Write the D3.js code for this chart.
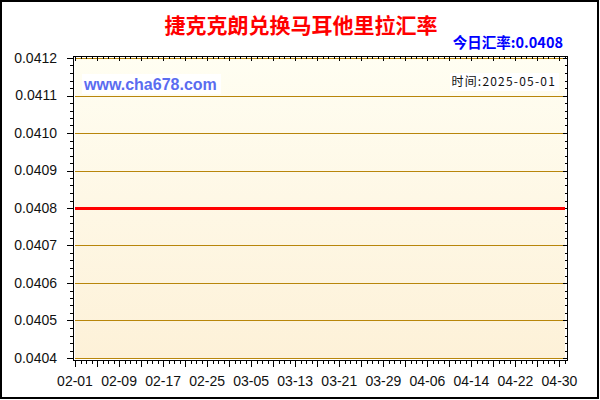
<!DOCTYPE html>
<html>
<head>
<meta charset="utf-8">
<script src="https://cdn.jsdelivr.net/npm/d3@7"></script>
<style>
  body { margin: 0; background: #fff; }
  svg { display: block; }
</style>
</head>
<body>
<svg width="600" height="400"></svg>
<script>
const svg = d3.select("svg");

// DATA
const title = "捷克克朗兑换马耳他里拉汇率";
const todayLabel = "今日汇率:0.0408";
const timeLabel = "时间:2025-05-01";
const siteLabel = "www.cha678.com";
const rateDates = ["2025-02-01", "2025-02-09", "2025-02-17", "2025-02-25", "2025-03-05", "2025-03-13",
  "2025-03-21", "2025-03-29", "2025-04-06", "2025-04-14", "2025-04-22", "2025-04-30", "2025-05-01"];
const rateValues = [0.0408, 0.0408, 0.0408, 0.0408, 0.0408, 0.0408,
  0.0408, 0.0408, 0.0408, 0.0408, 0.0408, 0.0408, 0.0408];
const xTickDates = ["2025-02-01", "2025-02-09", "2025-02-17", "2025-02-25", "2025-03-05", "2025-03-13",
  "2025-03-21", "2025-03-29", "2025-04-06", "2025-04-14", "2025-04-22", "2025-04-30"];
const yTicks = [0.0404, 0.0405, 0.0406, 0.0407, 0.0408, 0.0409, 0.0410, 0.0411, 0.0412];

const parse = d3.utcParse("%Y-%m-%d");
const fmt = d3.utcFormat("%m-%d");
const data = rateDates.map((d, i) => ({ date: parse(d), value: rateValues[i] }));

// LAYOUT
const plot = { left: 75, right: 565, top: 58, bottom: 358 };
const latin = "'Liberation Sans', Arial, sans-serif";
const cjk = "'Noto Sans CJK SC', 'Liberation Sans', sans-serif";

// SCALES
const xScale = d3.scaleUtc()
  .domain([parse("2025-02-01"), parse("2025-05-01")])
  .range([plot.left, plot.right]);
const yScale = d3.scaleLinear()
  .domain([0.0404, 0.0412])
  .range([plot.bottom, plot.top]);

// outer border
svg.append("rect")
  .attr("x", 1).attr("y", 1).attr("width", 597).attr("height", 397)
  .attr("fill", "#fff").attr("stroke", "#000").attr("stroke-width", 2);

// plot background gradient
const grad = svg.append("defs").append("linearGradient")
  .attr("id", "bg").attr("x1", 0).attr("y1", 0).attr("x2", 0).attr("y2", 1);
grad.append("stop").attr("offset", "0%").attr("stop-color", "#fffef2");
grad.append("stop").attr("offset", "100%").attr("stop-color", "#fdf1d8");

svg.append("rect")
  .attr("x", plot.left).attr("y", plot.top)
  .attr("width", plot.right - plot.left).attr("height", plot.bottom - plot.top)
  .attr("fill", "url(#bg)");

// grid lines
svg.append("g").attr("shape-rendering", "crispEdges")
  .selectAll("line").data(yTicks).join("line")
  .attr("x1", plot.left).attr("x2", plot.right)
  .attr("y1", d => Math.round(yScale(d)) + 0.5).attr("y2", d => Math.round(yScale(d)) + 0.5)
  .attr("stroke", "#b8860b").attr("stroke-width", 1);

// frame (axes lines sit 2px outside the plot)
const frame = { left: plot.left - 1.5, right: plot.right + 2.5, top: plot.top - 1.5, bottom: plot.bottom + 2.5 };
svg.append("rect")
  .attr("x", frame.left).attr("y", frame.top)
  .attr("width", frame.right - frame.left).attr("height", frame.bottom - frame.top)
  .attr("fill", "none").attr("stroke", "#000").attr("stroke-width", 1)
  .attr("shape-rendering", "crispEdges");

// x ticks: every day minor, every 4 days major
const days = d3.utcDay.range(parse("2025-02-01"), d3.utcDay.offset(parse("2025-05-01"), 1));
const isMajor = d => Math.round((d - parse("2025-02-01")) / 864e5) % 4 === 0;
const ticksG = svg.append("g").attr("stroke", "#000").attr("stroke-width", 1)
  .attr("shape-rendering", "crispEdges");
ticksG.selectAll(".xb").data(days).join("line")
  .attr("x1", d => Math.round(xScale(d)) + 0.5).attr("x2", d => Math.round(xScale(d)) + 0.5)
  .attr("y1", frame.bottom).attr("y2", d => frame.bottom + (isMajor(d) ? 6 : 3));
ticksG.selectAll(".xt").data(days).join("line")
  .attr("x1", d => Math.round(xScale(d)) + 0.5).attr("x2", d => Math.round(xScale(d)) + 0.5)
  .attr("y1", frame.top).attr("y2", d => frame.top + (isMajor(d) ? 4 : 2));

// y ticks: major at each label, 4 minor between
const yMinor = d3.range(0, 41).map(i => 0.0404 + i * 0.00002);
ticksG.selectAll(".yl").data(yMinor).join("line")
  .attr("y1", d => Math.round(yScale(d)) + 0.5).attr("y2", d => Math.round(yScale(d)) + 0.5)
  .attr("x1", frame.left).attr("x2", (d, i) => frame.left - (i % 5 === 0 ? 7 : 4));
ticksG.selectAll(".yr").data(yMinor).join("line")
  .attr("y1", d => Math.round(yScale(d)) + 0.5).attr("y2", d => Math.round(yScale(d)) + 0.5)
  .attr("x1", frame.right).attr("x2", (d, i) => frame.right - (i % 5 === 0 ? 5 : 3));

// y labels
svg.append("g").selectAll("text").data(yTicks).join("text")
  .attr("x", 57).attr("y", d => yScale(d))
  .attr("dy", "0.35em")
  .attr("text-anchor", "end")
  .attr("font-family", latin).attr("font-size", 14)
  .attr("fill", "#111")
  .text(d => d.toFixed(4));

// x labels
svg.append("g").selectAll("text").data(xTickDates.map(parse)).join("text")
  .attr("x", d => xScale(d)).attr("y", 386)
  .attr("text-anchor", "middle")
  .attr("font-family", latin).attr("font-size", 14)
  .attr("fill", "#111")
  .text(fmt);

// rate line
const line = d3.line().x(d => xScale(d.date)).y(d => yScale(d.value) + 0.5);
svg.append("path").datum(data)
  .attr("d", line)
  .attr("fill", "none").attr("stroke", "#ff0000").attr("stroke-width", 3);

// title
svg.append("text")
  .attr("x", 301).attr("y", 33)
  .attr("text-anchor", "middle")
  .attr("font-family", cjk).attr("font-weight", "bold").attr("font-size", 21)
  .attr("fill", "#ff0000")
  .text(title);

svg.append("text")
  .attr("x", 563).attr("y", 48)
  .attr("text-anchor", "end")
  .attr("font-family", cjk).attr("font-weight", "bold").attr("font-size", 14.5)
  .attr("fill", "#0000ff")
  .text(todayLabel);

// site watermark with white box
svg.append("rect").attr("x", 82).attr("y", 74).attr("width", 139).attr("height", 20).attr("fill", "#fff");
svg.append("text")
  .attr("x", 84).attr("y", 90)
  .attr("font-family", latin).attr("font-weight", "bold").attr("font-size", 16)
  .attr("fill", "#5a6cf0")
  .text(siteLabel);

// time label with white box
svg.append("rect").attr("x", 450).attr("y", 73).attr("width", 109).attr("height", 18).attr("fill", "#fff");
svg.append("text")
  .attr("x", 556).attr("y", 86)
  .attr("text-anchor", "end")
  .attr("font-family", cjk).attr("font-size", 12)
  .attr("letter-spacing", 1.2)
  .attr("fill", "#111")
  .text(timeLabel);
</script>
</body>
</html>
